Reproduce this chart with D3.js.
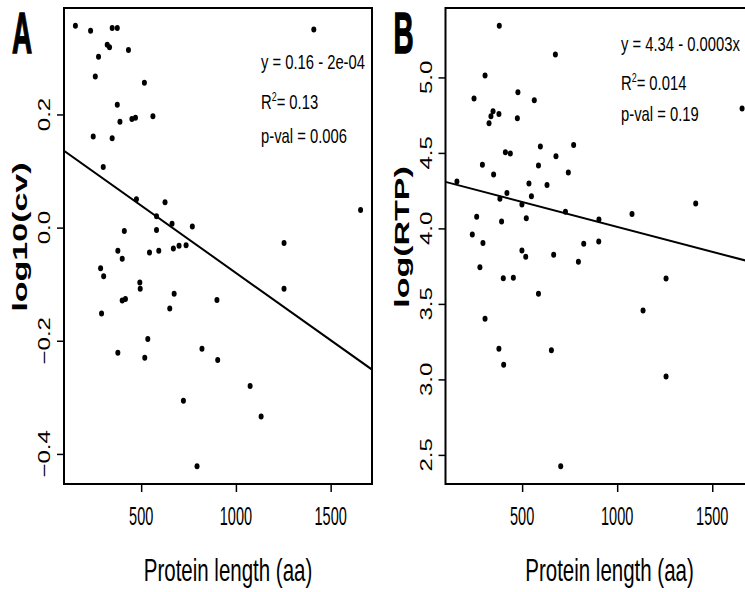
<!DOCTYPE html>
<html lang="en">
<head>
  <meta charset="UTF-8"/>
  <title>Protein length scatter plots</title>
  <script src="https://d3js.org/d3.v7.min.js"></script>
  <style>
    body { margin: 0; background: white; }
    text { font-family: "Liberation Sans", Arial, sans-serif; fill: black; }
  </style>
</head>
<body>
<script>
  var w = 745;
  var h = 592;

  // panel A : protein length vs log10(cv)
  var lengthA = [153,233,347,374,1411,321,333,433,275,258,517,374,388,451,470,562,247,347,300,475,
                 626,581,1658,663,770,581,411,1254,377,544,593,670,700,737,400,286,302,493,495,1254,
                 674,400,417,900,651,291,535,377,519,821,904,1075,723,1133,795];
  var cvA = [0.357,0.348,0.353,0.353,0.350,0.323,0.319,0.314,0.302,0.267,0.256,0.217,0.187,0.192,0.194,
             0.197,0.161,0.158,0.107,0.050,0.045,0.020,0.031,0.007,0.002,-0.004,-0.006,-0.027,-0.041,-0.044,
             -0.041,-0.037,-0.032,-0.031,-0.055,-0.072,-0.086,-0.097,-0.108,-0.108,-0.117,-0.129,-0.126,-0.128,
             -0.143,-0.152,-0.197,-0.221,-0.230,-0.214,-0.234,-0.280,-0.306,-0.334,-0.422];
  var fitA = [0.158, -0.000238];
  var yTicksA = [-0.4, -0.2, 0.0, 0.2];
  var statsA = ["y = 0.16 - 2e-04", "0.13", "0.006"];

  // panel B : protein length vs log(RTP)
  var lengthB = [380,675,305,247,478,564,1657,347,336,326,378,475,412,438,596,771,678,291,350,586,
                 743,157,536,631,420,383,549,499,728,1078,1413,261,522,904,392,238,294,499,519,666,
                 824,903,796,278,401,454,1257,586,1136,305,378,654,403,1257,703];
  var rtpB = [5.343,5.151,5.012,4.860,4.901,4.848,4.794,4.776,4.743,4.696,4.758,4.729,4.504,4.496,4.542,
              4.553,4.478,4.421,4.357,4.416,4.370,4.310,4.297,4.288,4.235,4.196,4.213,4.158,4.110,4.096,
              4.165,4.077,4.067,4.059,4.045,3.959,3.904,3.853,3.812,3.825,3.898,3.913,3.779,3.743,3.670,
              3.673,3.668,3.567,3.456,3.401,3.203,3.193,3.097,3.019,2.424];
  var fitB = [4.34, -0.00033];
  var yTicksB = [2.5, 3.0, 3.5, 4.0, 4.5, 5.0];
  var statsB = ["y = 4.34 - 0.0003x", "0.014", "0.19"];

  var xTicks = [500, 1000, 1500];

  var svg = d3.select("body")
          .append("svg")
          .attr("width", w)
          .attr("height", h);

  svg.append("rect")
          .attr("width", w)
          .attr("height", h)
          .attr("fill", "white");

  // R style axis limits: data range plus 4% on each side
  function padded(values) {
    var ext = d3.extent(values);
    var pad = (ext[1] - ext[0]) * 0.04;
    return [ext[0] - pad, ext[1] + pad];
  }

  function drawPanel(p) {
    var left = p.left, right = p.left + 308, top = 8, bottom = 484;

    var xScale = d3.scaleLinear().domain(padded(p.xs)).range([left, right]);
    var yScale = d3.scaleLinear().domain(padded(p.ys)).range([bottom, top]);

    var g = svg.append("g");

    g.append("clipPath")
            .attr("id", "clip" + p.letter)
            .append("rect")
            .attr("x", left)
            .attr("y", top)
            .attr("width", right - left)
            .attr("height", bottom - top);

    // fitted line
    var xd = xScale.domain();
    g.append("line")
            .attr("clip-path", "url(#clip" + p.letter + ")")
            .attr("x1", xScale(xd[0]))
            .attr("y1", yScale(p.fit[0] + p.fit[1] * xd[0]))
            .attr("x2", xScale(xd[1]))
            .attr("y2", yScale(p.fit[0] + p.fit[1] * xd[1]))
            .attr("stroke", "black")
            .attr("stroke-width", 2);

    g.selectAll("ellipse")
            .data(d3.range(p.xs.length))
            .enter()
            .append("ellipse")
            .attr("cx", function(i) { return xScale(p.xs[i]); })
            .attr("cy", function(i) { return yScale(p.ys[i]); })
            .attr("rx", 2.5)
            .attr("ry", 3)
            .attr("fill", "black");

    // box
    g.append("rect")
            .attr("x", left)
            .attr("y", top)
            .attr("width", right - left)
            .attr("height", bottom - top)
            .attr("fill", "none")
            .attr("stroke", "black")
            .attr("stroke-width", 2);

    // x axis
    var xAxis = d3.axisBottom(xScale)
            .tickValues(xTicks)
            .tickSize(8)
            .tickFormat("");
    var gx = g.append("g")
            .attr("transform", "translate(0," + bottom + ")")
            .call(xAxis);
    gx.select(".domain").remove();
    gx.selectAll(".tick line").attr("stroke-width", 1.5);

    g.selectAll("text.xlab")
            .data(xTicks)
            .enter()
            .append("text")
            .attr("class", "xlab")
            .attr("text-anchor", "middle")
            .attr("transform", function(d) { return "translate(" + xScale(d) + ",525) scale(0.58,1)"; })
            .style("font-size", "25px")
            .text(function(d) { return d; });

    // y axis
    var yAxis = d3.axisLeft(yScale)
            .tickValues(p.yTicks)
            .tickSize(7)
            .tickFormat("");
    var gy = g.append("g")
            .attr("transform", "translate(" + left + ",0)")
            .call(yAxis);
    gy.select(".domain").remove();
    gy.selectAll(".tick line").attr("stroke-width", 1.5);

    g.selectAll("text.ylab")
            .data(p.yTicks)
            .enter()
            .append("text")
            .attr("class", "ylab")
            .attr("text-anchor", "middle")
            .attr("transform", function(d) {
              return "translate(" + (left - 14) + "," + yScale(d) + ") rotate(-90) scale(1,0.7)";
            })
            .style("font-size", "24px")
            .text(function(d) { return d3.format(".1f")(d); });

    // axis titles
    g.append("text")
            .attr("text-anchor", "middle")
            .attr("transform", "translate(" + (left + 164) + ",581) scale(0.64,1)")
            .style("font-size", "32px")
            .text("Protein length (aa)");

    g.append("text")
            .attr("text-anchor", "middle")
            .attr("transform", "translate(" + (left - 37) + ",237) rotate(-90) scale(1,0.62)")
            .style("font-size", "34px")
            .style("font-weight", "bold")
            .text(p.ylabel);

    // panel letter
    g.append("text")
            .attr("transform", "translate(" + (left - 52) + ",53) scale(0.48,1)")
            .style("font-size", "58px")
            .style("font-weight", "bold")
            .attr("stroke", "black")
            .attr("stroke-width", 1.5)
            .text(p.letter);

    // regression stats
    var st = g.append("g")
            .attr("transform", "translate(" + p.statX + ",0)");
    st.append("text")
            .attr("transform", "translate(0," + p.statY[0] + ") scale(0.74,1)")
            .style("font-size", "20px")
            .text(p.stats[0]);
    var r2 = st.append("text")
            .attr("transform", "translate(0," + p.statY[1] + ") scale(0.74,1)")
            .style("font-size", "20px");
    r2.append("tspan").text("R");
    r2.append("tspan").attr("dy", -8).style("font-size", "12px").text("2");
    r2.append("tspan").attr("dy", 8).text("= " + p.stats[1]);
    st.append("text")
            .attr("transform", "translate(0," + p.statY[2] + ") scale(0.74,1)")
            .style("font-size", "20px")
            .text("p-val = " + p.stats[2]);
  }

  drawPanel({letter: "A", left: 64, xs: lengthA, ys: cvA, fit: fitA, yTicks: yTicksA,
             ylabel: "log10(cv)", stats: statsA, statX: 261, statY: [69, 109, 143]});
  drawPanel({letter: "B", left: 445.5, xs: lengthB, ys: rtpB, fit: fitB, yTicks: yTicksB,
             ylabel: "log(RTP)", stats: statsB, statX: 621, statY: [51, 90, 121]});
</script>
</body>
</html>
